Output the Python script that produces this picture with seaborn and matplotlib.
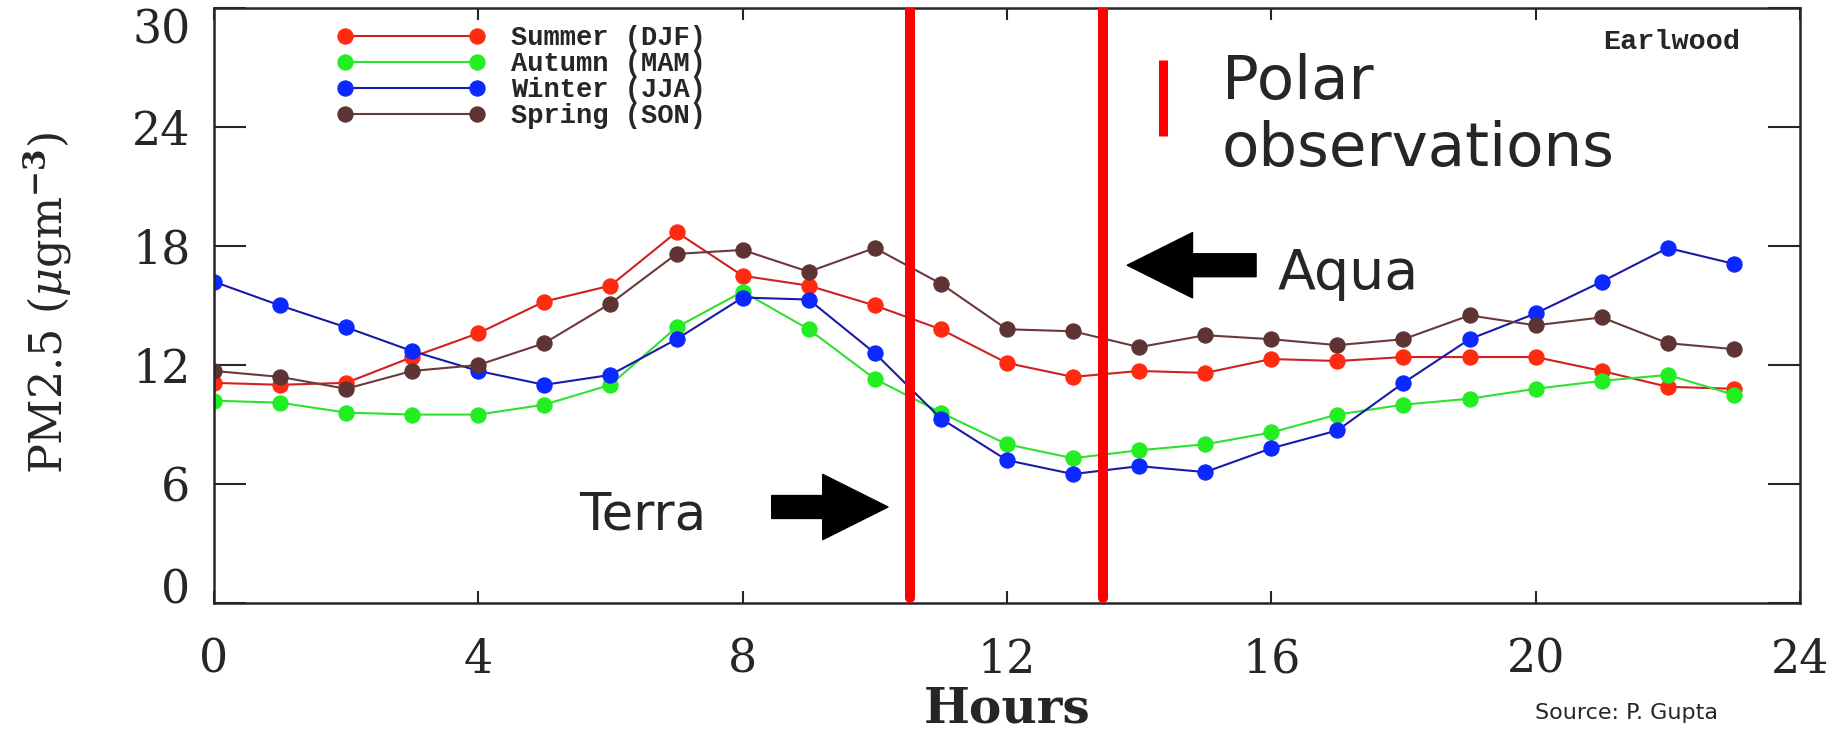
import numpy as np
import pandas as pd
import matplotlib
matplotlib.use("Agg")
import matplotlib.pyplot as plt
import seaborn as sns

# 시간대 (0~23시)
hours = list(range(24))

# 계절별 시간대 PM2.5 평균
summer_djf = [11.1, 11.0, 11.1, 12.4, 13.6, 15.2, 16.0, 18.7, 16.5, 16.0, 15.0, 13.8,
              12.1, 11.4, 11.7, 11.6, 12.3, 12.2, 12.4, 12.4, 12.4, 11.7, 10.9, 10.8]
autumn_mam = [10.2, 10.1, 9.6, 9.5, 9.5, 10.0, 11.0, 13.9, 15.7, 13.8, 11.3, 9.6,
              8.0, 7.3, 7.7, 8.0, 8.6, 9.5, 10.0, 10.3, 10.8, 11.2, 11.5, 10.5]
winter_jja = [16.2, 15.0, 13.9, 12.7, 11.7, 11.0, 11.5, 13.3, 15.4, 15.3, 12.6, 9.3,
              7.2, 6.5, 6.9, 6.6, 7.8, 8.7, 11.1, 13.3, 14.6, 16.2, 17.9, 17.1]
spring_son = [11.7, 11.4, 10.8, 11.7, 12.0, 13.1, 15.1, 17.6, 17.8, 16.7, 17.9, 16.1,
              13.8, 13.7, 12.9, 13.5, 13.3, 13.0, 13.3, 14.5, 14.0, 14.4, 13.1, 12.8]

season_names = ['Summer (DJF)', 'Autumn (MAM)', 'Winter (JJA)', 'Spring (SON)']
season_values = [summer_djf, autumn_mam, winter_jja, spring_son]
line_colors = ['#d02020', '#30e030', '#1a1aa8', '#6a3a3a']
marker_colors = ['#ff2a10', '#22ee22', '#0a28ff', '#5e3333']

# 위성 관측 시각 (Terra, Aqua)
overpass_hours = [10.54, 13.45]

# 데이터 통합 (long format)
df = pd.DataFrame({
    'hour': hours * 4,
    'pm25': sum(season_values, []),
    'season': np.repeat(season_names, len(hours))
})

sns.set_style("ticks")
plt.rcParams['font.family'] = ['DejaVu Serif']
plt.rcParams['mathtext.fontset'] = 'dejavuserif'

fig = plt.figure(figsize=(18.38, 7.31), dpi=100)
ax = fig.add_axes([0.1164, 0.1751, 0.8629, 0.814])

for name, lc, mc in zip(season_names, line_colors, marker_colors):
    sns.lineplot(
        data=df[df['season'] == name], x='hour', y='pm25',
        color=lc, marker='o', markersize=11, markerfacecolor=mc,
        markeredgecolor=mc, linewidth=1.5, label=name, ax=ax
    )

# 위성 관측 시각 세로선
for h in overpass_hours:
    ax.axvline(h, ymin=0.008, ymax=1.0, color='#ff0000', linewidth=7.2, zorder=5)

ax.set_xlim(0, 24)
ax.set_ylim(0, 30)
ax.set_xticks(range(0, 25, 4))
ax.set_yticks(range(0, 31, 6))
ax.tick_params(axis='y', direction='in', length=23, width=1.5, left=True, right=True,
               labelsize=33, pad=17)
ax.tick_params(axis='x', direction='in', length=8.5, width=1.5, top=True, bottom=True,
               labelsize=33, pad=25)
ylabels = ax.get_yticklabels()
ylabels[0].set_va('baseline')
ylabels[-1].set_va('top')
for s in ax.spines.values():
    s.set_linewidth(1.8)
    s.set_visible(True)

ax.set_xlabel('Hours', fontsize=35, fontweight='bold', va='center')
ax.xaxis.set_label_coords(0.5, -0.178)
ax.set_ylabel(r'PM2.5 ($\mu$gm$^{\mathbf{-3}}$)', fontsize=32, va='center')
ax.yaxis.set_label_coords(-0.105, 0.505)

ax.legend(loc='upper left', bbox_to_anchor=(0.0776, 0.971), frameon=False,
          numpoints=2, handlelength=5.47, handletextpad=0.96, labelspacing=0.0,
          borderpad=0, borderaxespad=0,
          prop={'family': 'Liberation Mono', 'weight': 'bold', 'size': 19.5})

ax.text(23.1, 28.3, 'Earlwood', ha='right', va='center',
        family='Liberation Mono', fontweight='bold', fontsize=20.5)

# 주석: Polar observations
ax.plot([14.36, 14.36], [23.54, 27.4], color='#ff0000', linewidth=6.5, solid_capstyle='butt')
ax.text(15.25, 25.39, 'Polar', family='DejaVu Sans', fontsize=44, ha='left', va='baseline')
ax.text(15.25, 22.03, 'observations', family='DejaVu Sans', fontsize=44,
        ha='left', va='baseline')

# 주석: Aqua / Terra 화살표
arrow_style = 'simple,head_length=47,head_width=47,tail_width=16.5'
ax.annotate('', xy=(13.82, 17.03), xytext=(15.77, 17.03),
            arrowprops=dict(arrowstyle=arrow_style, color='black', mutation_scale=1,
                            shrinkA=0, shrinkB=0))
ax.text(16.1, 15.82, 'Aqua', family='DejaVu Sans', fontsize=40, ha='left', va='baseline')
ax.annotate('', xy=(10.2, 4.84), xytext=(8.44, 4.84),
            arrowprops=dict(arrowstyle=arrow_style, color='black', mutation_scale=1,
                            shrinkA=0, shrinkB=0))
ax.text(5.52, 3.7, 'Terra', family='DejaVu Sans', fontsize=37, ha='left', va='baseline')

fig.text(0.835, 0.025, 'Source: P. Gupta', family='DejaVu Sans', fontsize=16,
         ha='left', va='center')

fig.savefig('out.png', dpi=100)
